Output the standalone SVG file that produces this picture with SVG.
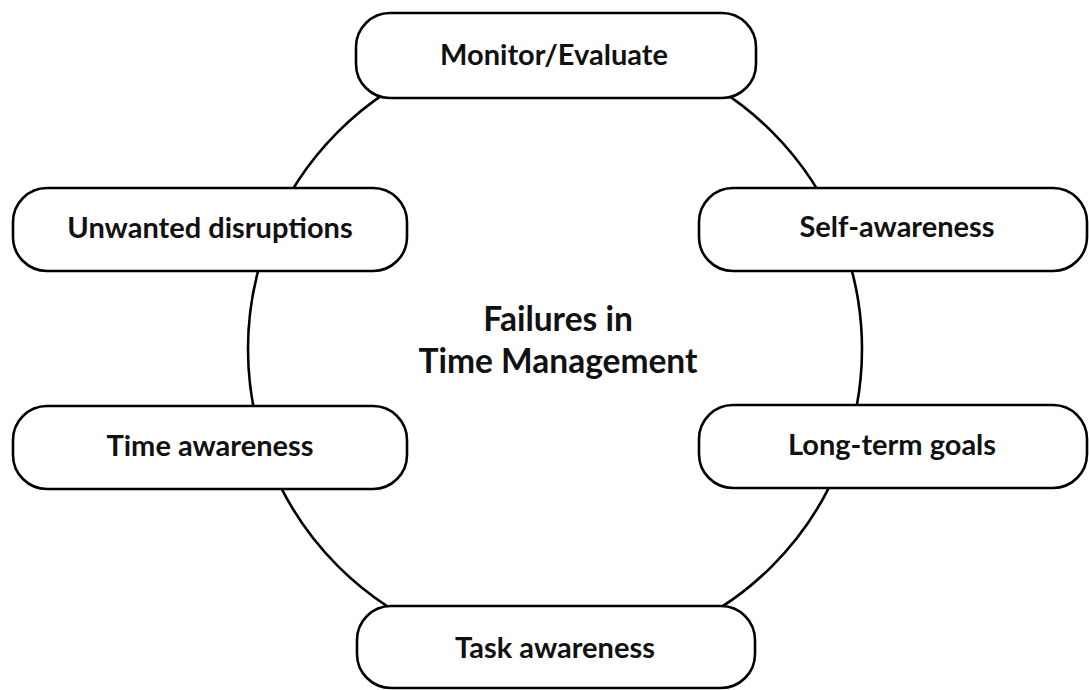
<svg xmlns="http://www.w3.org/2000/svg" width="1089" height="690" viewBox="0 0 1089 690">
<style>
.box{fill:#fff;stroke:#000;stroke-width:2.6}
.lbl{font-family:Lato,"Open Sans","Liberation Sans",sans-serif;font-weight:bold;font-size:29px;fill:#111;text-anchor:middle}
.ctr{font-family:Lato,"Open Sans","Liberation Sans",sans-serif;font-weight:bold;font-size:33.5px;fill:#111;text-anchor:middle}
.ring{fill:none;stroke:#000;stroke-width:2.6}
</style>
<rect width="1089" height="690" fill="#fff"/>
<g id="connectors">
<circle class="ring" cx="555" cy="349" r="307"/>
</g>
<g id="center">
<text class="ctr" x="558" y="331">Failures in</text>
<text class="ctr" x="558" y="373">Time Management</text>
</g>
<g id="monitor">
<rect class="box" x="356" y="13" width="400" height="85" rx="34"/>
<text class="lbl" x="554" y="65">Monitor/Evaluate</text>
</g>
<g id="self-awareness">
<rect class="box" x="699" y="188" width="388" height="83" rx="34"/>
<text class="lbl" x="897" y="237">Self-awareness</text>
</g>
<g id="long-term-goals">
<rect class="box" x="699" y="405" width="388" height="83" rx="34"/>
<text class="lbl" x="892" y="455">Long-term goals</text>
</g>
<g id="task-awareness">
<rect class="box" x="357" y="606" width="398" height="82" rx="34"/>
<text class="lbl" x="555" y="658">Task awareness</text>
</g>
<g id="time-awareness">
<rect class="box" x="13" y="406" width="394" height="83" rx="34"/>
<text class="lbl" x="210" y="456">Time awareness</text>
</g>
<g id="unwanted-disruptions">
<rect class="box" x="13" y="188" width="394" height="83" rx="34"/>
<text class="lbl" x="210" y="238">Unwanted disruptions</text>
</g>
</svg>
